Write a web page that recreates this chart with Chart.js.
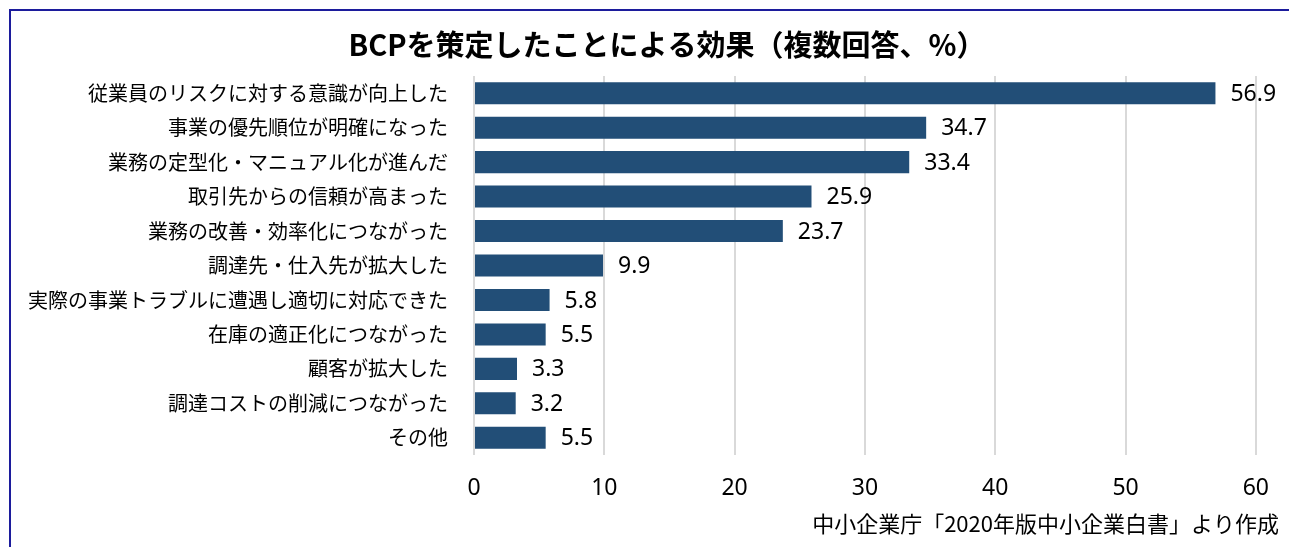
<!DOCTYPE html>
<html><head><meta charset="utf-8">
<script src="https://cdn.jsdelivr.net/npm/chart.js@4.4.1/dist/chart.umd.min.js"></script>
<style>html,body{margin:0;padding:0;background:#fff;}#wrap{width:1289px;height:547px;position:relative;}</style>
</head><body><div id="wrap"><canvas id="c" width="1289" height="547"></canvas></div>
<script>
const categories = ["従業員のリスクに対する意識が向上した","事業の優先順位が明確になった","業務の定型化・マニュアル化が進んだ","取引先からの信頼が高まった","業務の改善・効率化につながった","調達先・仕入先が拡大した","実際の事業トラブルに遭遇し適切に対応できた","在庫の適正化につながった","顧客が拡大した","調達コストの削減につながった","その他"];
const values = [56.9,34.7,33.4,25.9,23.7,9.9,5.8,5.5,3.3,3.2,5.5];
const xTicks = [0,10,20,30,40,50,60];
const titleText = "BCPを策定したことによる効果（複数回答、%）";
const sourceText = "中小企業庁「2020年版中小企業白書」より作成";
const FONT = "'Noto Sans CJK JP','Noto Sans',sans-serif";
const NUMFONT = "'Noto Sans','Noto Sans CJK JP',sans-serif";

const frame = {id:'frame', afterDraw(chart){const c=chart.ctx;c.save();c.strokeStyle='#1c1c9c';c.lineWidth=2;c.beginPath();c.moveTo(10,547);c.lineTo(10,10);c.lineTo(1289,10);c.stroke();
  c.fillStyle='#000';c.textBaseline='middle';
  c.font="bold 29px "+FONT;c.textAlign='center';c.fillText(titleText,667,45);
  c.font="22px "+FONT;c.textAlign='right';c.fillText(sourceText,1279,524);c.restore();}};
const labels = {id:'vlabels', afterDatasetsDraw(chart){const c=chart.ctx;const meta=chart.getDatasetMeta(0);c.save();c.font="23px "+NUMFONT;c.fillStyle='#000';c.textBaseline='middle';c.textAlign='left';meta.data.forEach((b,i)=>{c.fillText(values[i].toFixed(1),b.x+15,b.y+1);});c.restore();}};

new Chart(document.getElementById('c'),{
  type:'bar',
  data:{labels:categories,datasets:[{data:values,backgroundColor:'#224e77',barPercentage:0.64,categoryPercentage:1}]},
  options:{
    indexAxis:'y',responsive:false,animation:false,
    layout:{padding:{left:18,right:32,top:76,bottom:44}},
    plugins:{legend:{display:false},tooltip:{enabled:false},title:{display:false}},
    scales:{
      x:{min:0,max:60,afterBuildTicks(s){s.ticks=xTicks.map(v=>({value:v}));},
        grid:{color:'#d9d9d9',lineWidth:2,drawTicks:false},border:{display:false},
        ticks:{color:'#000',font:{family:NUMFONT,size:23},padding:20},
        afterFit(s){s.height=48;}},
      y:{grid:{display:false},border:{display:false},
        ticks:{color:'#000',font:{family:FONT,size:20},padding:18,autoSkip:false},
        afterFit(s){s.width=456;}}
    }
  },
  plugins:[frame,labels]
});
</script></body></html>
